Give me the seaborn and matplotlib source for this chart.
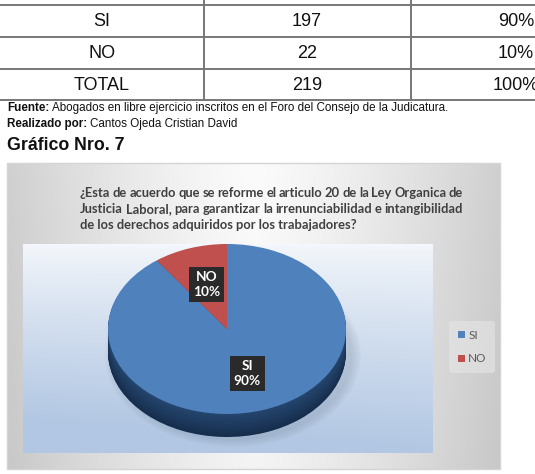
import numpy as np
import matplotlib
matplotlib.use('Agg')
import matplotlib.pyplot as plt
import matplotlib.colors as mcolors
from matplotlib.patches import Rectangle
import seaborn as sns

# data
categories = ['SI', 'NO']
counts = [197, 22]
total_label = 'TOTAL'
source_text = 'Abogados en libre ejercicio inscritos en el Foro del Consejo de la Judicatura.'
author_text = 'Cantos Ojeda Cristian David'
heading = 'Gráfico Nro. 7'
title_lines = ['¿Esta de acuerdo que se reforme el articulo 20 de la Ley Organica de',
               'Justicia Laboral, para garantizar la irrenunciabilidad e intangibilidad',
               'de los derechos adquiridos por los trabajadores?']

sns.set_style('white')
plt.rcParams['font.family'] = ['Liberation Sans', 'DejaVu Sans']
colors = sns.color_palette(['#4F81BD', '#C0504D'])

W, H = 535, 474
fig = plt.figure(figsize=(W / 100, H / 100), dpi=100)
fig.patch.set_facecolor('white')

# background axes in pixel units
bg = fig.add_axes([0, 0, 1, 1])
bg.set_xlim(0, W)
bg.set_ylim(H, 0)
bg.axis('off')

# table (top of page, cut off)
total = sum(counts)
rows = [(c, str(n), f'{round(100 * n / total)}%') for c, n in zip(categories, counts)]
rows.append((total_label, str(total), '100%'))
line_c = '#777777'
for y in [5, 37, 69, 100]:
    bg.plot([0, W], [y, y], color=line_c, lw=1.4)
for x in [204, 411]:
    bg.plot([x, x], [0, 100], color=line_c, lw=1.4)
col_x = [102, 307, 516]
for i, row in enumerate(rows):
    yc = 21 + 32 * i
    for x, s in zip(col_x, row):
        bg.text(x, yc, s, ha='center', va='center', fontsize=13, color='#111111')

renderer = fig.canvas.get_renderer()


def text_width(t):
    bb = t.get_window_extent(renderer=renderer)
    return bb.width


def bold_then_regular(x, y, bold, rest, size):
    t = bg.text(x, y, bold, ha='left', va='center', fontsize=size, fontweight='bold', color='#111111')
    w = text_width(t)
    bg.text(x + w + 3, y, rest, ha='left', va='center', fontsize=size, color='#111111')


bold_then_regular(7, 108, 'Fuente:', source_text, 8.4)
bold_then_regular(7, 124, 'Realizado por:', author_text, 8.4)
bg.text(7, 145, heading, ha='left', va='center', fontsize=12.8, fontweight='bold', color='#111111')

# chart box with gray gradient
bx0, bx1, by0, by1 = 7, 500, 163, 469
xs = np.linspace(0, 1, 300)
ys = np.linspace(0, 1, 200)
X, Y = np.meshgrid(xs, ys)
v = 0.955 - 0.17 * np.abs(2 * X - 1) ** 1.3 + 0.03 * (1 - Y)
bg.imshow(np.dstack([v, v, v]), extent=(bx0, bx1, by1, by0), aspect='auto', origin='upper', zorder=1)
bg.add_patch(Rectangle((bx0, by0), bx1 - bx0, by1 - by0, fill=False, ec='#d4d4d4', lw=1, zorder=2))

# plot area with blue gradient
px0, px1, py0, py1 = 23, 433, 244, 453
top_c = np.array(mcolors.to_rgb('#f4f7fb'))
bot_c = np.array(mcolors.to_rgb('#b2c7e3'))
t = (Y ** 0.85)[..., None] + 0.15 * (1 - X)[..., None] * Y[..., None]
t = np.clip(t, 0, 1)
grad = top_c * (1 - t) + bot_c * t
bg.imshow(grad, extent=(px0, px1, py1, py0), aspect='auto', origin='upper', zorder=2)

# justified title
tx0, tx1 = 80, 463
title_kw = dict(fontsize=9.3, fontweight='bold', color='#404040', family=['Lato', 'DejaVu Sans'],
                va='center', ha='left', zorder=3)
for i, line in enumerate(title_lines):
    yc = 193 + 16 * i
    if i < len(title_lines) - 1:
        words = line.split(' ')
        texts = [bg.text(0, yc, w, **title_kw) for w in words]
        widths = [text_width(tt) for tt in texts]
        gap = (tx1 - tx0 - sum(widths)) / (len(words) - 1)
        x = tx0
        for tt, w in zip(texts, widths):
            tt.set_x(x)
            x += w + gap
    else:
        bg.text(tx0, yc, line, **title_kw)

# pie (3D look via stacked layers)
cx, cy, rx, ry = 227, 329, 119, 85
depth = 23 / ry
pax = fig.add_axes([px0 / W, 1 - py1 / H, (px1 - px0) / W, (py1 - py0) / H])
pax.patch.set_alpha(0)
start = 90 + 360 * counts[1] / total

# soft shadow
for k in range(6):
    pax.pie(counts, colors=['#7a8aa0', '#7a8aa0'], startangle=start, radius=1.0 + 0.015 * k,
            center=(0.05, -depth - 0.04), wedgeprops=dict(linewidth=0, alpha=0.05))

n_layers = 24
dark = np.array(mcolors.to_rgb('#162e4d'))
mid = np.array(mcolors.to_rgb('#25466f'))
for k in range(n_layers, 0, -1):
    f = k / n_layers
    c = tuple(mid * (1 - f) + dark * f)
    pax.pie(counts, colors=[c, '#7d2b28'], startangle=start, radius=1,
            center=(0, -depth * f), wedgeprops=dict(linewidth=0))

wedges, _ = pax.pie(counts, colors=colors, startangle=start, radius=1,
                    wedgeprops=dict(linewidth=0))

for w, cat, n in zip(wedges, categories, counts):
    ang = np.deg2rad((w.theta1 + w.theta2) / 2)
    r = 0.55
    pax.text(r * np.cos(ang), r * np.sin(ang), f'{cat}\n{round(100 * n / total)}%',
             ha='center', va='center', fontsize=9.8, fontweight='bold', color='white',
             family=['Lato', 'DejaVu Sans'], linespacing=1.35,
             bbox=dict(boxstyle='square,pad=0.3', fc='#2a2a2a', ec='none'))

pax.set_aspect('auto')
pax.set_xlim((px0 - cx) / rx, (px1 - cx) / rx)
pax.set_ylim((cy - py1) / ry, (cy - py0) / ry)
pax.axis('off')

leg = fig.legend(wedges, categories, loc='center', bbox_to_anchor=(472 / W, 1 - 347 / H),
                 frameon=True, handlelength=0.6, handleheight=0.6,
                 handletextpad=0.3, labelspacing=1.1, borderpad=0.7,
                 prop={'family': ['Lato', 'DejaVu Sans'], 'size': 8.5})
leg.get_frame().set_facecolor('#e6e6e6')
leg.get_frame().set_edgecolor('none')
leg.get_frame().set_alpha(0.6)
for txt in leg.get_texts():
    txt.set_color('#595959')

fig.savefig('out.png', dpi=100)
